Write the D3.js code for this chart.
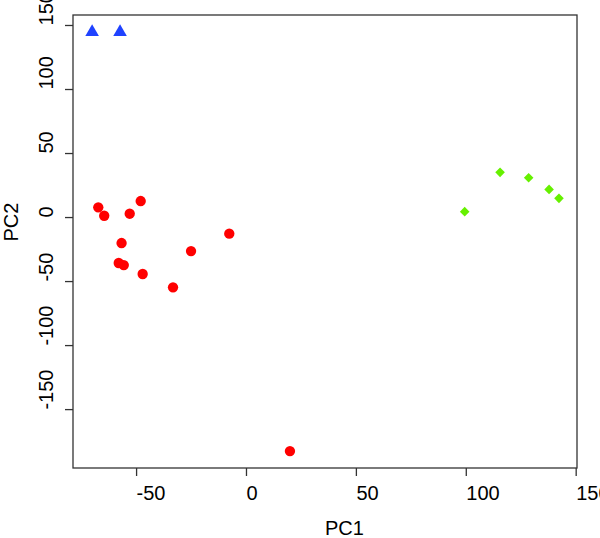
<!DOCTYPE html>
<html>
<head>
<meta charset="utf-8">
<script src="https://cdn.jsdelivr.net/npm/d3@7"></script>
<style>
  body { margin: 0; background: #fff; }
  svg { display: block; }
  text { font-family: "Liberation Sans", Arial, sans-serif; }
</style>
</head>
<body>
<div id="chart"></div>
<script>
  // PCA scores
  var groupA_pc1 = [-70.0, -57.3];
  var groupA_pc2 = [144.5, 144.5];

  var groupB_pc1 = [-67.2, -64.5, -52.9, -47.9, -56.6, -57.9, -55.6, -47.0, -33.2, -25.0, -7.6, 20.0];
  var groupB_pc2 = [7.6, 1.0, 2.6, 12.5, -20.3, -35.9, -37.5, -44.5, -54.9, -26.6, -13.0, -182.8];

  var groupC_pc1 = [99.5, 115.6, 128.6, 137.9, 142.4];
  var groupC_pc2 = [4.2, 34.9, 30.7, 21.6, 14.6];

  var xTicks = [-50, 0, 50, 100, 150];
  var yTicks = [-150, -100, -50, 0, 50, 100, 150];

  var W = 600, H = 538;
  var box = { left: 73, right: 577, top: 15, bottom: 468 };

  var x = d3.scaleLinear().domain([-78.7, 150.6]).range([box.left, box.right]);
  var y = d3.scaleLinear().domain([-196, 157.8]).range([box.bottom, box.top]);

  var svg = d3.select('#chart').append('svg')
      .attr('width', W).attr('height', H);

  // frame
  svg.append('rect')
      .attr('x', box.left).attr('y', box.top)
      .attr('width', box.right - box.left).attr('height', box.bottom - box.top)
      .attr('fill', 'none').attr('stroke', '#333').attr('stroke-width', 1.3);

  var xAxis = svg.append('g')
      .attr('transform', 'translate(0,' + box.bottom + ')')
      .call(d3.axisBottom(x).tickValues(xTicks).tickSize(8).tickSizeOuter(0));
  xAxis.select('.domain').remove();
  xAxis.selectAll('line').attr('stroke', '#333').attr('stroke-width', 1.3);
  xAxis.selectAll('text')
      .attr('y', 32).attr('dy', 0)
      .attr('text-anchor', 'start')
      .attr('font-size', 20).attr('fill', '#000')
      .text(function(d) { return d < 0 ? '-' + Math.abs(d) : d; });

  var yAxis = svg.append('g')
      .attr('transform', 'translate(' + box.left + ',0)')
      .call(d3.axisLeft(y).tickValues(yTicks).tickSize(8).tickSizeOuter(0));
  yAxis.select('.domain').remove();
  yAxis.selectAll('line').attr('stroke', '#333').attr('stroke-width', 1.3);
  yAxis.selectAll('text')
      .attr('x', 0).attr('dy', 0)
      .attr('text-anchor', 'start')
      .attr('transform', 'translate(-20,0) rotate(-90)')
      .attr('font-size', 20).attr('fill', '#000')
      .text(function(d) { return d < 0 ? '-' + Math.abs(d) : d; });

  svg.append('text')
      .attr('x', (box.left + box.right) / 2).attr('y', 535)
      .attr('font-size', 20).text('PC1');
  svg.append('text')
      .attr('transform', 'translate(18,' + (box.top + box.bottom) / 2 + ') rotate(-90)')
      .attr('font-size', 20).text('PC2');

  function pts(xs, ys) { return xs.map(function(v, i) { return [v, ys[i]]; }); }

  svg.append('g').selectAll('path').data(pts(groupB_pc1, groupB_pc2)).enter().append('path')
      .attr('d', d3.symbol(d3.symbolCircle, 84))
      .attr('transform', function(d) { return 'translate(' + x(d[0]) + ',' + y(d[1]) + ')'; })
      .attr('fill', '#ff0000');

  svg.append('g').selectAll('path').data(pts(groupA_pc1, groupA_pc2)).enter().append('path')
      .attr('d', d3.symbol(d3.symbolTriangle, 80))
      .attr('transform', function(d) { return 'translate(' + x(d[0]) + ',' + y(d[1]) + ')'; })
      .attr('fill', '#1f42ff');

  svg.append('g').selectAll('path').data(pts(groupC_pc1, groupC_pc2)).enter().append('path')
      .attr('d', d3.symbol(d3.symbolSquare, 46))
      .attr('transform', function(d) { return 'translate(' + x(d[0]) + ',' + y(d[1]) + ') rotate(45)'; })
      .attr('fill', '#66f000');
</script>
</body>
</html>
